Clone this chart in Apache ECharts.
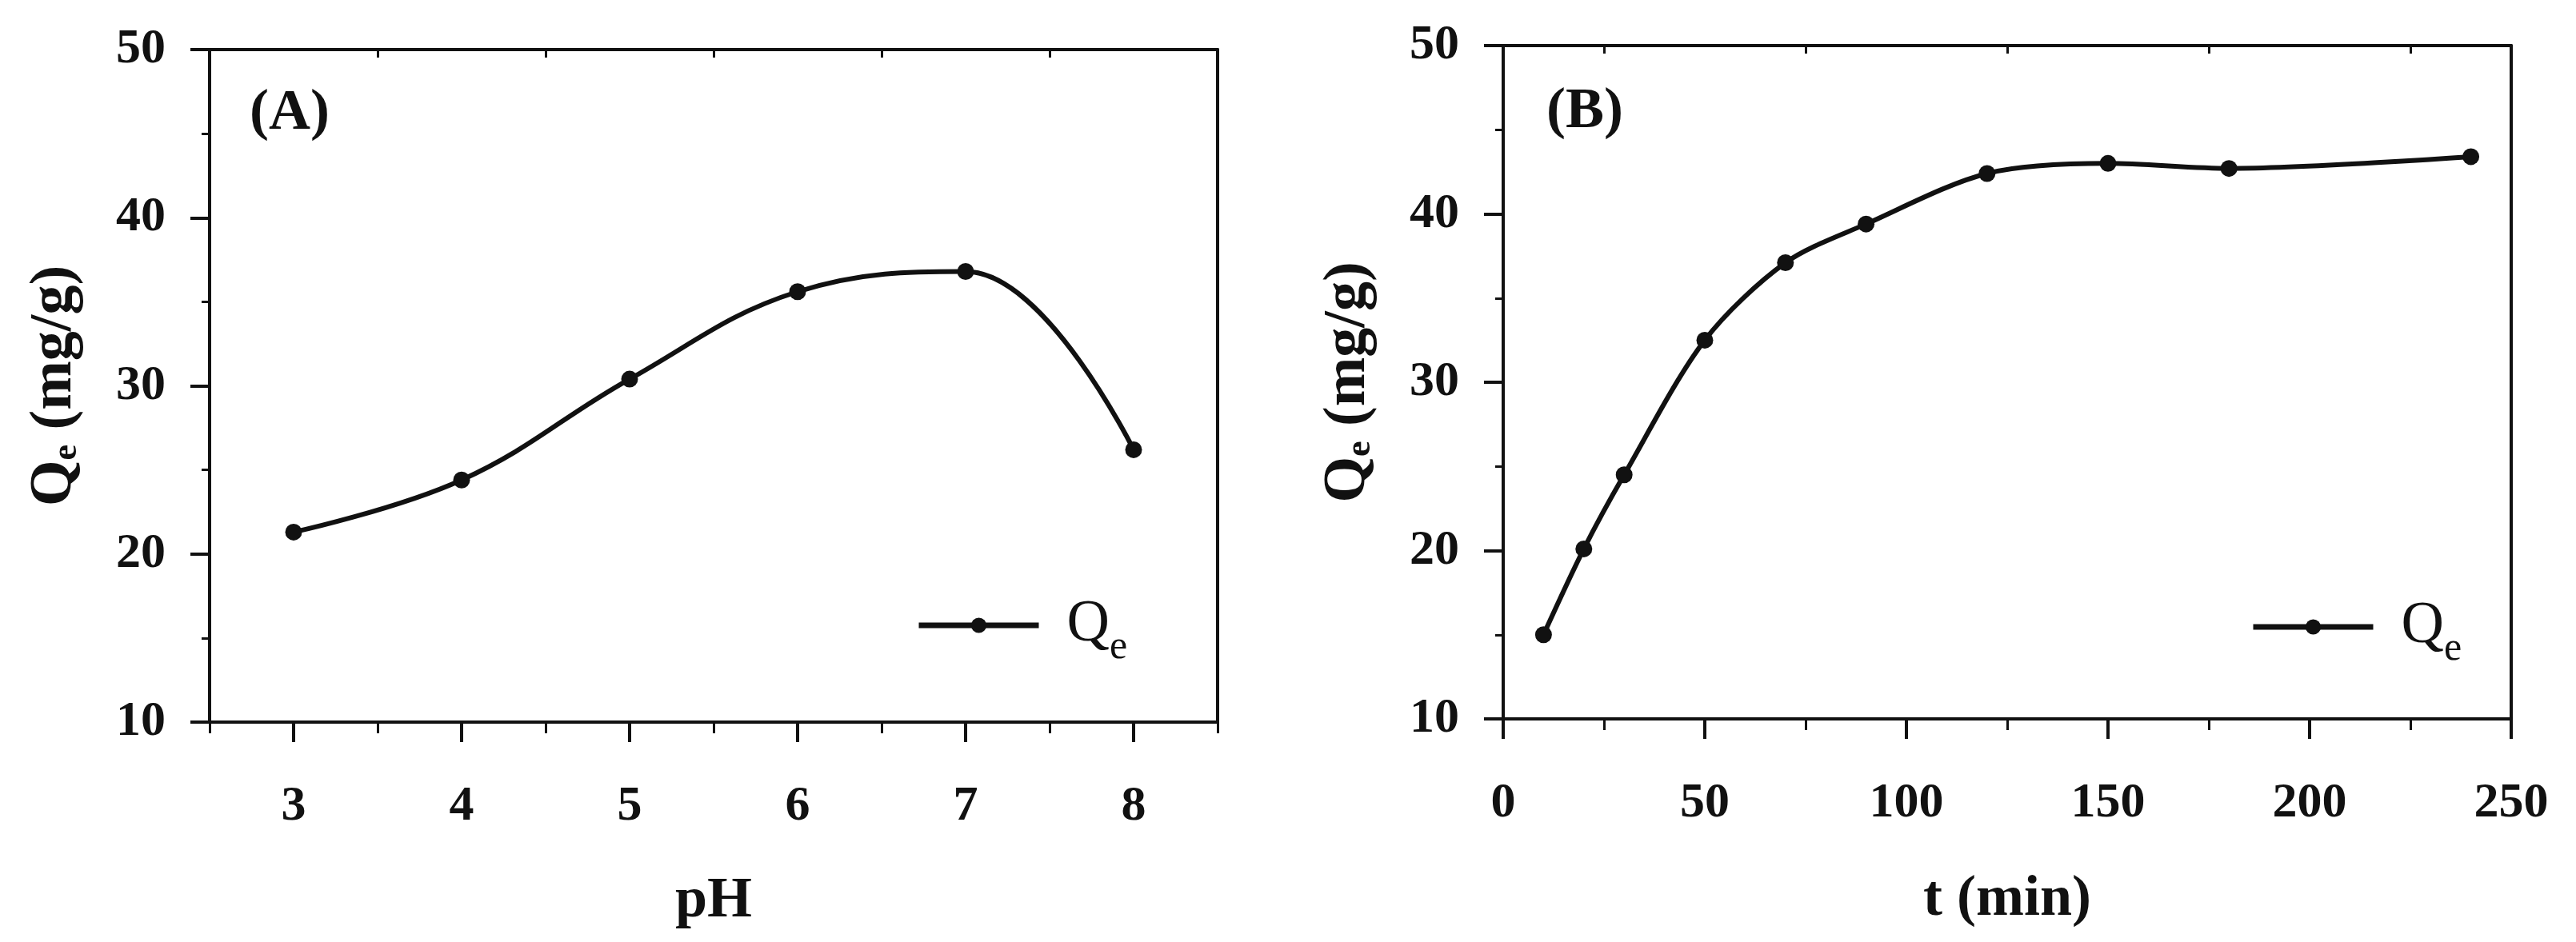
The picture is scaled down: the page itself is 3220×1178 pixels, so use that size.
<!DOCTYPE html>
<html>
<head>
<meta charset="utf-8">
<script src="https://cdn.jsdelivr.net/npm/echarts@6/dist/echarts.min.js"></script>
<style>
html,body{margin:0;padding:0;background:#fff;}
#c{width:3220px;height:1178px;}
</style>
</head>
<body>
<div id="c"></div>
<script>
// ---- data ----
const phValues = [3, 4, 5, 6, 7, 8];
const qePH = [21.3, 24.4, 30.4, 35.6, 36.8, 26.2];
const timeValues = [10, 20, 30, 50, 70, 90, 120, 150, 180, 240];
const qeTime = [15.0, 20.1, 24.5, 32.5, 37.1, 39.4, 42.4, 43.0, 42.7, 43.4];
const phMajorTicks = [3, 4, 5, 6, 7, 8];
const phMinorTicks = [2.5, 3.5, 4.5, 5.5, 6.5, 7.5, 8.5];
const phTopTicks = [3.5, 4.5, 5.5, 6.5, 7.5];
const tMajorTicks = [0, 50, 100, 150, 200, 250];
const tMinorTicks = [25, 75, 125, 175, 225];
const tTopTicks = [25, 75, 125, 175, 225];
const seriesName = 'Qe';

const FONT = '"Liberation Serif", "Times New Roman", serif';
const BLACK = '#111';

const chart = echarts.init(document.getElementById('c'), null, {renderer: 'canvas'});

function pairs(xs, ys) { return xs.map((x, i) => [x, ys[i]]); }

function mainX(grid, min, max, ticks, name, nameGap) {
  return {
    type: 'value', gridIndex: grid, position: 'bottom', min: min, max: max,
    name: name, nameLocation: 'middle', nameGap: nameGap,
    nameTextStyle: {fontFamily: FONT, fontWeight: 'bold', fontSize: 72, color: BLACK},
    axisLine: {show: true, onZero: false, lineStyle: {color: BLACK, width: 4}},
    axisTick: {show: true, inside: false, length: 25, customValues: ticks, lineStyle: {color: BLACK, width: 4}},
    axisLabel: {show: true, customValues: ticks, margin: 75, fontFamily: FONT, fontWeight: 'bold', fontSize: 62, color: BLACK},
    splitLine: {show: false}
  };
}
function minorX(grid, min, max, ticks) {
  return {
    type: 'value', gridIndex: grid, position: 'bottom', min: min, max: max,
    axisLine: {show: false, onZero: false},
    axisTick: {show: true, inside: false, length: 14, customValues: ticks, lineStyle: {color: BLACK, width: 3}},
    axisLabel: {show: false, customValues: ticks},
    splitLine: {show: false}
  };
}
function topX(grid, min, max, ticks) {
  return {
    type: 'value', gridIndex: grid, position: 'top', min: min, max: max,
    axisLine: {show: true, onZero: false, lineStyle: {color: BLACK, width: 4}},
    axisTick: {show: true, inside: true, length: 10, customValues: ticks, lineStyle: {color: BLACK, width: 3}},
    axisLabel: {show: false, customValues: ticks},
    splitLine: {show: false}
  };
}
function leftY(grid) {
  return {
    type: 'value', gridIndex: grid, position: 'left', min: 10, max: 50, interval: 10,
    name: 'Q{e|e} (mg/g)', nameLocation: 'middle', nameGap: 156,
    nameTextStyle: {fontFamily: FONT, fontWeight: 'bold', fontSize: 74, color: BLACK,
      rich: {e: {fontFamily: FONT, fontWeight: 'bold', fontSize: 44, color: BLACK, verticalAlign: 'bottom'}}},
    axisLine: {show: true, onZero: false, lineStyle: {color: BLACK, width: 4}},
    axisTick: {show: true, inside: false, length: 24, lineStyle: {color: BLACK, width: 4}},
    minorTick: {show: true, splitNumber: 2, length: 10, lineStyle: {color: BLACK, width: 3}},
    axisLabel: {show: true, margin: 55, fontFamily: FONT, fontWeight: 'bold', fontSize: 62, color: BLACK},
    splitLine: {show: false}, minorSplitLine: {show: false}
  };
}
function rightY(grid) {
  return {
    type: 'value', gridIndex: grid, position: 'right', min: 10, max: 50, interval: 10,
    axisLine: {show: true, onZero: false, lineStyle: {color: BLACK, width: 4}},
    axisTick: {show: false}, axisLabel: {show: false}, splitLine: {show: false}
  };
}
function legendAt(left, top) {
  return {
    show: true, left: left, top: top, orient: 'horizontal', selectedMode: false,
    data: [seriesName],
    itemWidth: 150, itemHeight: 24,
    lineStyle: {width: 7, color: BLACK},
    itemStyle: {color: BLACK},
    formatter: function () { return '{q|Q}{e|e}'; },
    textStyle: {
      padding: [0, 0, 0, 30],
      rich: {
        q: {fontFamily: FONT, fontSize: 74, color: BLACK, verticalAlign: 'bottom'},
        e: {fontFamily: FONT, fontSize: 50, color: BLACK, verticalAlign: 'bottom', padding: [0, 0, -16, 0]}
      }
    }
  };
}
function lineSeries(xi, yi, data, smooth) {
  return {
    name: seriesName, type: 'line', xAxisIndex: xi, yAxisIndex: yi,
    data: data, smooth: smooth,
    symbol: 'circle', symbolSize: 21, showSymbol: true,
    lineStyle: {color: BLACK, width: 6},
    itemStyle: {color: BLACK},
    emphasis: {disabled: true}, animation: false
  };
}

const option = {
  backgroundColor: '#fff',
  animation: false,
  title: [
    {text: '(A)', left: 312, top: 106, padding: 0, textStyle: {fontFamily: FONT, fontWeight: 'bold', fontSize: 72, color: BLACK}},
    {text: '(B)', left: 1933, top: 104, padding: 0, textStyle: {fontFamily: FONT, fontWeight: 'bold', fontSize: 72, color: BLACK}}
  ],
  legend: [legendAt(1140, 740), legendAt(2808, 742)],
  grid: [
    {left: 262, top: 62, width: 1260, height: 841, containLabel: false},
    {left: 1879, top: 57, width: 1260, height: 842, containLabel: false}
  ],
  xAxis: [
    mainX(0, 2.5, 8.5, phMajorTicks, 'pH', 188),
    minorX(0, 2.5, 8.5, phMinorTicks),
    topX(0, 2.5, 8.5, phTopTicks),
    mainX(1, 0, 250, tMajorTicks, 't (min)', 190),
    minorX(1, 0, 250, tMinorTicks),
    topX(1, 0, 250, tTopTicks)
  ],
  yAxis: [leftY(0), rightY(0), leftY(1), rightY(1)],
  series: [
    lineSeries(0, 0, pairs(phValues, qePH), 0.4),
    lineSeries(3, 2, pairs(timeValues, qeTime), 0.3)
  ]
};
chart.setOption(option);
</script>
</body>
</html>
